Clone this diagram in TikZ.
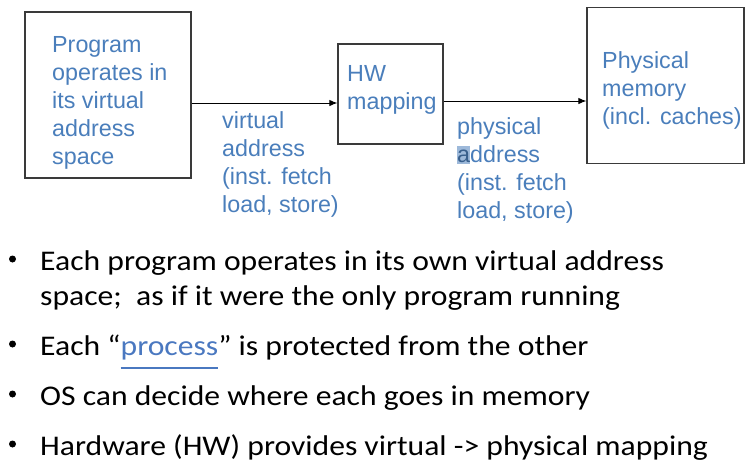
\documentclass[tikz,border=0pt]{standalone}
\usepackage{fontspec}
\setmainfont{Liberation Sans}
\newfontfamily\calfont[FakeStretch=1.11]{Carlito}
\usetikzlibrary{arrows.meta}
\definecolor{txtblue}{HTML}{4A7EBB}
\definecolor{linkblue}{HTML}{4A78C0}
\definecolor{boxline}{HTML}{3A3A3A}
\definecolor{selblue}{HTML}{9DB9DA}
\newcommand\lnkul[1]{\setbox0\hbox{#1}\rlap{\rule[-14pt]{\wd0}{2.2pt}}\box0}
\tikzset{
  box/.style={draw=boxline, line width=1.2pt, inner sep=0pt},
  lbl/.style={anchor=base west, inner sep=0pt, text=txtblue, font=\fontsize{23.3}{28}\selectfont},
  conn/.style={draw=black, line width=1pt, -{Latex[length=8pt,width=6.5pt]}},
  bul/.style={anchor=base west, inner sep=0pt, font=\calfont\fontsize{28.5}{34}\selectfont},
  dot/.style={circle, fill=black, inner sep=0pt, minimum size=7pt},
}
\begin{document}
\begin{tikzpicture}[x=1pt, y=-1pt]
\useasboundingbox (0,0) rectangle (754,474);
% boxes
\node[box, minimum width=166pt, minimum height=166pt] (prog) at (108,95) {};
\node[box, minimum width=105pt, minimum height=100pt] (hw) at (390.5,94) {};
\node[box, minimum width=157pt, minimum height=156pt] (mem) at (665.5,85.3) {};
% box texts
\node[lbl] (p1) at (52,52) {Program};
\node[lbl] (p2) at (52,80) {operates in};
\node[lbl] (p3) at (52,108) {its virtual};
\node[lbl] (p4) at (52,136) {address};
\node[lbl] (p5) at (52,164) {space};
\node[lbl] (h1) at (347,81) {HW};
\node[lbl] (h2) at (347,109) {mapping};
\node[lbl] (m1) at (602,68) {Physical};
\node[lbl] (m2) at (602,96) {memory};
\node[lbl] (m3) at (602,124) {(incl. caches)};
% connectors
\draw[conn] ([yshift=-8pt]prog.east) -- ([yshift=-8pt]prog.east -| hw.west);
\draw[conn] ([yshift=-7pt]hw.east) -- ([yshift=-7pt]hw.east -| mem.west);
% connector labels
\node[lbl] (v1) at (222,128) {virtual};
\node[lbl] (v2) at (222,156) {address};
\node[lbl] (v3) at (222,184) {(inst. fetch};
\node[lbl] (v4) at (222,212) {load, store)};
\node[lbl] (a1) at (457,134) {physical};
\fill[selblue] (457,146) rectangle (470,164);
\node[lbl] (a2) at (457,162) {\textcolor{txtblue!75!black}{a}ddress};
\node[lbl] (a3) at (457,190) {(inst. fetch};
\node[lbl] (a4) at (457,218) {load, store)};
% bullets
\node[dot] (d1) at (12.5,259) {};
\node[bul] (b1) at (40,270) {Each program operates in its own virtual address};
\node[bul] (b1b) at (40,305) {space;\ \ as if it were the only program running};
\node[dot] (d2) at (12.5,344) {};
\node[bul] (b2) at (40,355) {Each “{\color{linkblue}\lnkul{process}}” is protected from the other};
\node[dot] (d3) at (12.5,394) {};
\node[bul] (b3) at (40,405) {OS can decide where each goes in memory};
\node[dot] (d4) at (12.5,444) {};
\node[bul] (b4) at (40,455) {Hardware (HW) provides virtual -> physical mapping};
\end{tikzpicture}
\end{document}
